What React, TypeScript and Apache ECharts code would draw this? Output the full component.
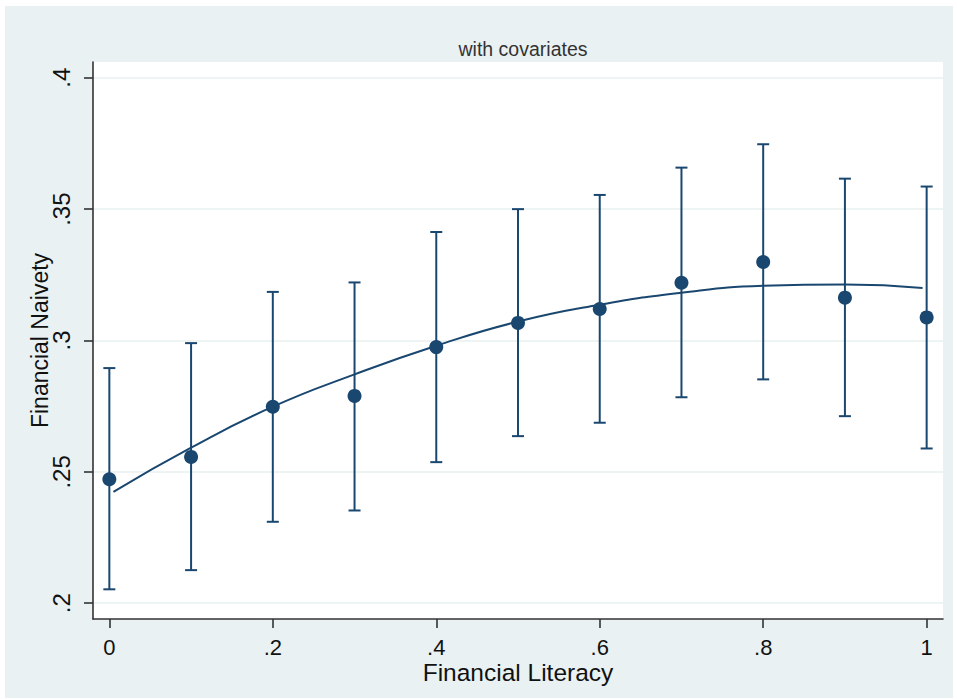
import React, { useEffect, useRef } from "react";
import * as echarts from "echarts";

// ---- data ----
const xValues = [0, 0.1, 0.2, 0.3, 0.4, 0.5, 0.6, 0.7, 0.8, 0.9, 1];
const meanValues = [0.2472, 0.2557, 0.2748, 0.2789, 0.2975, 0.3067, 0.312, 0.322, 0.3299, 0.3163, 0.3088];
const upperValues = [0.2895, 0.299, 0.3185, 0.3221, 0.3413, 0.35, 0.3554, 0.3658, 0.3747, 0.3616, 0.3586];
const lowerValues = [0.2053, 0.2126, 0.231, 0.2353, 0.2537, 0.2636, 0.2687, 0.2784, 0.2852, 0.2712, 0.2589];

const fitX = [0.005, 0.1, 0.2, 0.3, 0.4, 0.5, 0.6, 0.7, 0.8, 0.9, 0.995];
const fitY = [0.2424, 0.2592, 0.2748, 0.2871, 0.298, 0.3072, 0.3136, 0.3182, 0.3208, 0.3213, 0.32];

const xTicks = [0, 0.2, 0.4, 0.6, 0.8, 1];
const yTicks = [0.2, 0.25, 0.3, 0.35, 0.4];

const titleText = "with covariates";
const xTitle = "Financial Literacy";
const yTitle = "Financial Naivety";

const NAVY = "#1a476f";
const FONT = "'Liberation Sans', Arial, sans-serif";

const stataFmt = (v: number) => {
  const s = String(+v.toFixed(4));
  return s.startsWith("0.") ? s.slice(1) : s;
};

export default function App() {
  const ref = useRef<HTMLDivElement>(null);
  useEffect(() => {
    if (!ref.current) return;
    const chart = echarts.init(ref.current, null, { renderer: "svg" });
    const option: any = {
      animation: false,
      backgroundColor: "#ffffff",
      graphic: [
        {
          type: "rect",
          z: -10,
          silent: true,
          shape: { x: 5, y: 6, width: 948, height: 692 },
          style: { fill: "#eaf1f3" },
        },
      ],
      title: {
        text: titleText,
        left: 518,
        top: 34,
        textAlign: "center",
        textStyle: { fontFamily: FONT, fontSize: 19.5, fontWeight: "normal", color: "#333333" },
      },
      grid: {
        left: 93,
        top: 62,
        right: 14,
        bottom: 80,
        show: true,
        backgroundColor: "#ffffff",
        borderWidth: 0,
      },
      xAxis: {
        type: "value",
        min: -0.02,
        max: 1.02,
        name: xTitle,
        nameLocation: "middle",
        nameGap: 41,
        nameMoveOverlap: false,
        nameTextStyle: { fontFamily: FONT, fontSize: 24.5, color: "#111111" },
        axisLine: { show: true, onZero: false, lineStyle: { color: "#333333", width: 1.6 } },
        axisTick: { show: true, customValues: xTicks, length: 9, lineStyle: { color: "#333333", width: 1.6 } },
        axisLabel: {
          customValues: xTicks,
          formatter: stataFmt,
          margin: 17,
          fontFamily: FONT,
          fontSize: 22,
          color: "#111111",
        },
        splitLine: { show: false },
      },
      yAxis: {
        type: "value",
        min: 0.194,
        max: 0.406,
        name: yTitle,
        nameLocation: "middle",
        nameGap: 41.5,
        nameMoveOverlap: false,
        nameRotate: 90,
        nameTextStyle: { fontFamily: FONT, fontSize: 23, color: "#111111" },
        axisLine: { show: true, onZero: false, lineStyle: { color: "#333333", width: 1.6 } },
        axisTick: { show: true, customValues: yTicks, length: 9, lineStyle: { color: "#333333", width: 1.6 } },
        axisLabel: {
          customValues: yTicks,
          formatter: stataFmt,
          rotate: 90,
          margin: 20,
          fontFamily: FONT,
          fontSize: 24,
          color: "#111111",
        },
        splitLine: { show: true, lineStyle: { color: "#e8eff1", width: 1.5 } },
      },
      series: [
        {
          type: "custom",
          name: "ci",
          data: xValues.map((x, i) => [x, lowerValues[i], upperValues[i]]),
          encode: { x: 0, y: [1, 2] },
          renderItem: (params: any, api: any) => {
            const x = api.value(0);
            const lo = api.coord([x, api.value(1)]);
            const hi = api.coord([x, api.value(2)]);
            const hw = 6;
            const style = { stroke: NAVY, lineWidth: 2, fill: "none" };
            return {
              type: "group",
              children: [
                { type: "line", shape: { x1: lo[0], y1: lo[1], x2: hi[0], y2: hi[1] }, style },
                { type: "line", shape: { x1: hi[0] - hw, y1: hi[1], x2: hi[0] + hw, y2: hi[1] }, style },
                { type: "line", shape: { x1: lo[0] - hw, y1: lo[1], x2: lo[0] + hw, y2: lo[1] }, style },
              ],
            };
          },
          z: 2,
        },
        {
          type: "line",
          name: "fit",
          data: fitX.map((x, i) => [x, fitY[i]]),
          smooth: 0.5,
          showSymbol: false,
          symbol: "none",
          lineStyle: { color: NAVY, width: 2 },
          z: 3,
        },
        {
          type: "scatter",
          name: "mean",
          data: xValues.map((x, i) => [x, meanValues[i]]),
          symbol: "circle",
          symbolSize: 14,
          itemStyle: { color: NAVY, opacity: 1 },
          z: 4,
        },
      ],
    };
    chart.setOption(option);
    return () => chart.dispose();
  }, []);
  return (
    <div
      ref={ref}
      style={{ position: "absolute", left: 0, top: 0, width: 957, height: 699 }}
    />
  );
}
